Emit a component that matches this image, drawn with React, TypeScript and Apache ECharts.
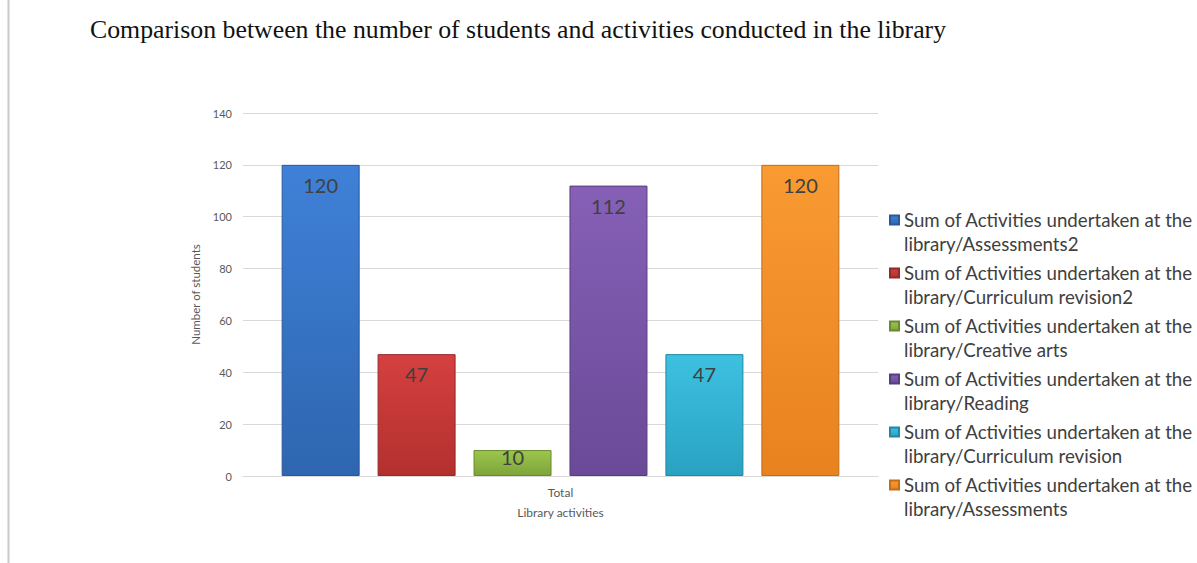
import React, { useEffect, useRef } from "react";
import * as echarts from "echarts";

const TITLE = "Comparison between the number of students and activities conducted in the library";
const CATEGORIES = ["Total"];
const SERIES_NAMES = [
  "Sum of Activities undertaken at the\nlibrary/Assessments2",
  "Sum of Activities undertaken at the\nlibrary/Curriculum revision2",
  "Sum of Activities undertaken at the\nlibrary/Creative arts",
  "Sum of Activities undertaken at the\nlibrary/Reading",
  "Sum of Activities undertaken at the\nlibrary/Curriculum revision",
  "Sum of Activities undertaken at the\nlibrary/Assessments",
];
const SERIES_VALUES = [120, 47, 10, 112, 47, 120];
const TOP_COLORS = ["#3f81d8", "#d4403f", "#9cc64c", "#8660b6", "#3dc1e0", "#f99a32"];
const BOTTOM_COLORS = ["#2e66b0", "#b3302f", "#7ea43a", "#6a4a98", "#2aa2c2", "#e8821f"];
const EDGE_COLORS = ["#28589a", "#952828", "#6a8a30", "#573d80", "#2088a4", "#c46c18"];

const FONT = "Lato, 'Noto Sans', sans-serif";

export default function App() {
  const ref = useRef<HTMLDivElement>(null);
  useEffect(() => {
    if (!ref.current) return;
    const chart = echarts.init(ref.current, undefined, { renderer: "svg" });
    const series = SERIES_NAMES.map((name, i) => ({
      name,
      type: "bar",
      data: [SERIES_VALUES[i]],
      barWidth: 78,
      barGap: "23%",
      itemStyle: {
        color: new echarts.graphic.LinearGradient(0, 0, 0, 1, [
          { offset: 0, color: TOP_COLORS[i] },
          { offset: 1, color: BOTTOM_COLORS[i] },
        ]),
        borderColor: EDGE_COLORS[i],
        borderWidth: 1,
      },
      label: {
        show: true,
        position: "insideTop",
        distance: SERIES_VALUES[i] < 20 ? -3 : 10,
        fontFamily: FONT,
        fontSize: 20,
        color: "#404040",
      },
    }));
    chart.setOption({
      animation: false,
      backgroundColor: "#ffffff",
      title: {
        text: TITLE,
        left: 85,
        top: 11,
        textStyle: {
          fontFamily: "'Liberation Serif', 'Times New Roman', serif",
          fontSize: 25.8,
          fontWeight: "normal",
          color: "#111111",
        },
      },
      graphic: [
        {
          type: "line",
          shape: { x1: 8.5, y1: 0, x2: 8.5, y2: 563 },
          style: { stroke: "#c9c9c9", lineWidth: 2 },
        },
      ],
      legend: {
        orient: "vertical",
        left: 889,
        top: 184,
        padding: 0,
        itemGap: -19,
        itemWidth: 9,
        itemHeight: 9,
        icon: "rect",
        selectedMode: false,
        formatter: (name: string) => "\n" + name,
        textStyle: {
          fontFamily: FONT,
          fontSize: 18.7,
          lineHeight: 24,
          color: "#404040",
        },
      },
      grid: { left: 243, right: 319, top: 113, bottom: 87 },
      xAxis: {
        type: "category",
        data: CATEGORIES,
        name: "Library activities",
        nameLocation: "middle",
        nameGap: 30,
        nameTextStyle: { fontFamily: FONT, fontSize: 12, color: "#595959" },
        axisLine: { lineStyle: { color: "#d9d9d9" } },
        axisTick: { show: false },
        axisLabel: { fontFamily: FONT, fontSize: 12, color: "#595959", margin: 10 },
      },
      yAxis: {
        type: "value",
        min: 0,
        max: 140,
        interval: 20,
        name: "Number of students",
        nameLocation: "middle",
        nameGap: 36,
        nameTextStyle: { fontFamily: FONT, fontSize: 11.5, color: "#595959" },
        axisLine: { show: false },
        axisTick: { show: false },
        axisLabel: { fontFamily: FONT, fontSize: 11, color: "#595959", margin: 11 },
        splitLine: { lineStyle: { color: "#d9d9d9" } },
      },
      series,
    });
    return () => chart.dispose();
  }, []);
  return (
    <div
      ref={ref}
      style={{ position: "fixed", left: 0, top: 0, width: 1197, height: 563 }}
    />
  );
}
